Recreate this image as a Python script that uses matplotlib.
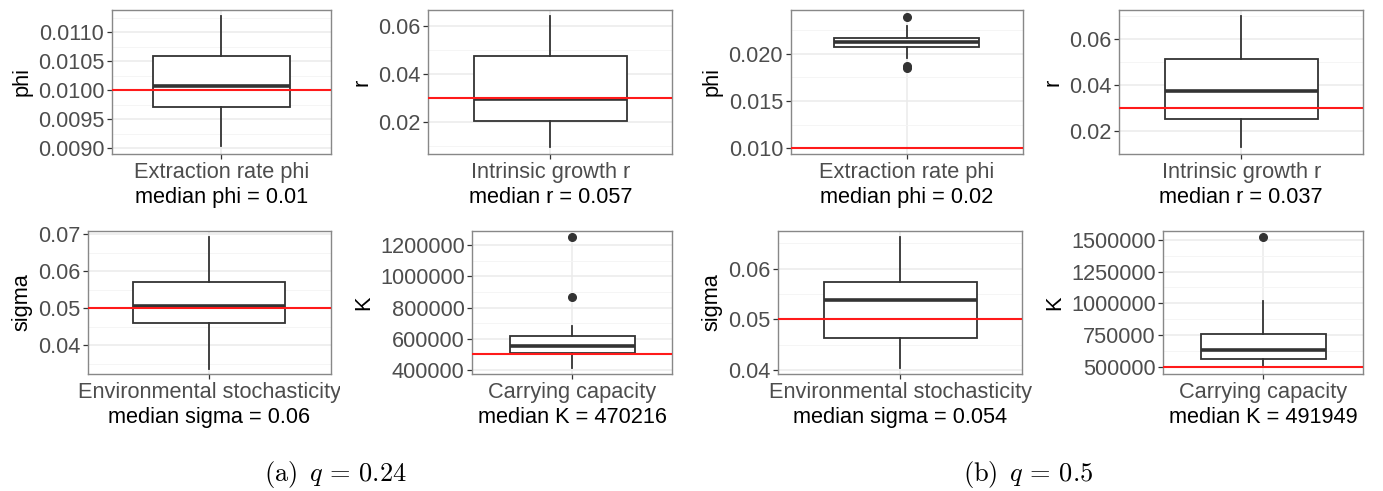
import matplotlib
matplotlib.use("Agg")
import matplotlib.pyplot as plt
from matplotlib.ticker import MultipleLocator, AutoMinorLocator, FormatStrFormatter
from matplotlib.transforms import Bbox

plt.rcParams['font.family'] = ['Liberation Sans', 'DejaVu Sans']
plt.rcParams['mathtext.fontset'] = 'cm'

# ---------------- data ----------------
params = ["phi", "r", "sigma", "K"]
categories = ["Extraction rate phi", "Intrinsic growth r",
              "Environmental stochasticity", "Carrying capacity"]
true_values = [0.01, 0.03, 0.05, 500000]

# q = 0.24
a_whislo = [0.00903, 0.0097, 0.0337, 411000]
a_q1     = [0.00971, 0.0205, 0.0459, 508000]
a_med    = [0.01007, 0.0296, 0.0507, 555000]
a_q3     = [0.01059, 0.0475, 0.0570, 617000]
a_whishi = [0.01128, 0.0642, 0.0691, 679000]
a_fliers = [[], [], [], [1253000, 868600]]
a_median_text = ["0.01", "0.057", "0.06", "470216"]

# q = 0.5
b_whislo = [0.0195, 0.0127, 0.0403, 503000]
b_q1     = [0.0207, 0.0253, 0.04625, 561000]
b_med    = [0.0212, 0.0375, 0.0538, 629000]
b_q3     = [0.0217, 0.0515, 0.0573, 760000]
b_whishi = [0.0229, 0.0702, 0.0663, 1018000]
b_fliers = [[0.0239, 0.0187, 0.01846], [], [], [1526000]]
b_median_text = ["0.02", "0.037", "0.054", "491949"]

captions = [r"$\mathrm{(a)}\ \,q\,=\,0.24$", r"$\mathrm{(b)}\ \,q\,=\,0.5$"]

# ---------------- layout ----------------
W, H = 1383, 491
fig = plt.figure(figsize=(W / 100, H / 100), dpi=100)

# pixel boxes (left, top, right, bottom)
boxes_a = [(112, 10, 331, 154), (428.3, 10, 672.3, 154),
           (87.7, 230.7, 331, 374.3), (472.3, 230.7, 672.3, 374.3)]
boxes_b = [(790.7, 10, 1022.7, 154), (1119.3, 10, 1363.3, 154),
           (778.3, 230.7, 1022.3, 374.3), (1163.3, 230.7, 1363.3, 374.3)]
# right edge of each sub-image (tick labels are cut there)
clip_a = [340, 683, 340, 683]
clip_b = [1040, 1383, 1040, 1383]
ylims_a = [(0.00890, 0.01138), (0.00667, 0.0667), (0.0322, 0.0709), (372000, 1293600)]
ylims_b = [(0.0094, 0.02462), (0.0098, 0.0728), (0.03915, 0.0675), (440000, 1573000)]
steps_a = [0.0005, 0.02, 0.01, 200000]
steps_b = [0.005, 0.02, 0.01, 250000]
fmts_a = ['%.4f', '%.2f', '%.2f', '%d']
fmts_b = ['%.3f', '%.2f', '%.2f', '%d']

FS = 15.7
BOXC = '#333333'


def panel(box, clipx, ylim, step, fmt, i, whislo, q1, med, q3, whishi, fliers, mtext):
    l, t, r, b = box
    ax = fig.add_axes([l / W, 1 - b / H, (r - l) / W, (b - t) / H])
    stats = [dict(whislo=whislo, q1=q1, med=med, q3=q3, whishi=whishi,
                  fliers=fliers)]
    ax.set_axisbelow(True)
    ax.bxp(stats, positions=[1], widths=0.75, showcaps=False, patch_artist=True,
           boxprops=dict(facecolor='white', edgecolor=BOXC, linewidth=1.3),
           whiskerprops=dict(color=BOXC, linewidth=1.3),
           medianprops=dict(color=BOXC, linewidth=2.6),
           flierprops=dict(marker='o', markerfacecolor=BOXC, markeredgecolor=BOXC,
                           markersize=5.5))
    ax.axhline(true_values[i], color='#ff1a1a', linewidth=1.5, zorder=5)
    ax.set_xlim(0.4, 1.6)
    ax.set_ylim(*ylim)
    ax.yaxis.set_major_locator(MultipleLocator(step))
    ax.yaxis.set_minor_locator(AutoMinorLocator(2))
    ax.yaxis.set_major_formatter(FormatStrFormatter(fmt))
    ax.set_xticks([1])
    ax.set_xticklabels([categories[i]])
    ax.grid(True, which='major', color='#EBEBEB', linewidth=1.1)
    ax.grid(True, which='minor', axis='y', color='#F4F4F4', linewidth=0.6)
    ax.tick_params(axis='both', which='major', length=3.5, width=0.9,
                   color='#333333', labelcolor='#4D4D4D', labelsize=FS, pad=2)
    ax.tick_params(axis='both', which='minor', length=0)
    for s in ax.spines.values():
        s.set_color('#888888')
        s.set_linewidth(1.0)
    ax.set_ylabel(params[i], fontsize=FS, color='black', labelpad=4)
    ax.set_xlabel(f"median {params[i]} = {mtext}", fontsize=FS, color='black',
                  labelpad=3)
    clip = Bbox.from_extents(0, 0, clipx, H)
    for lab in ax.get_xticklabels():
        lab.set_clip_box(clip)
        lab.set_clip_on(True)
    return ax


for i in range(4):
    panel(boxes_a[i], clip_a[i], ylims_a[i], steps_a[i], fmts_a[i], i,
          a_whislo[i], a_q1[i], a_med[i], a_q3[i], a_whishi[i], a_fliers[i],
          a_median_text[i])
    panel(boxes_b[i], clip_b[i], ylims_b[i], steps_b[i], fmts_b[i], i,
          b_whislo[i], b_q1[i], b_med[i], b_q3[i], b_whishi[i], b_fliers[i],
          b_median_text[i])

fig.text(335 / W, 1 - 481 / H, captions[0], fontsize=19, ha='center',
         va='baseline')
fig.text(1028 / W, 1 - 481 / H, captions[1], fontsize=19, ha='center',
         va='baseline')

fig.savefig("out.png", dpi=100)
